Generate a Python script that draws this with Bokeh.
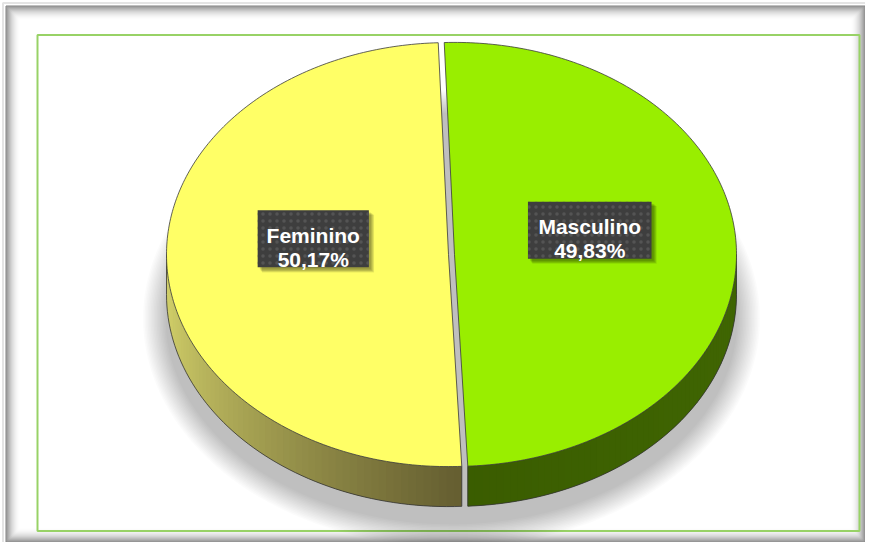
import numpy as np
from bokeh.plotting import figure
from bokeh.models import Range1d
from bokeh.core.properties import value
from bokeh.embed import file_html
from bokeh.resources import INLINE

# ---- data ----
categories = ["Feminino", "Masculino"]
percent = [50.17, 49.83]
top_colors = ["#FFFF66", "#99EE00"]

# ---- geometry / style ----
W, H = 865, 542
CX, CY = 451.0, 254.0      # centre of top face (pixels)
RX, RY = 282.0, 212.0
DEPTH = 40.0
EXPLODE = 3.0
START = 177.3              # compass angle (deg, clockwise from top) of first slice

p = figure(width=W, height=H, x_range=Range1d(0, W), y_range=Range1d(H, 0),
           output_backend="svg", toolbar_location=None, min_border=0,
           x_axis_type=None, y_axis_type=None)
p.grid.visible = False
p.outline_line_color = None
p.background_fill_color = "white"
p.border_fill_color = "white"

# ---- outer frame with inner shadow ----
L, R, T, B = 5, W, 5, H
p.quad(left=L - 2.5, right=R + 2, top=T - 2.5, bottom=B + 2, fill_alpha=0,
       line_color="#e4e4e4", line_width=2)
for i in range(16):
    a = 0.5 * (1 - i / 16.0) ** 2.4
    p.quad(left=L + i + 0.5, right=R - i - 0.5, top=T + i + 0.5, bottom=B - i - 0.5,
           fill_alpha=0, line_color="#000000", line_alpha=a, line_width=1)

# inner green rectangle
p.quad(left=37, right=859, top=34.5, bottom=530.5, fill_alpha=0,
       line_color="#98d266", line_width=2)

# ---- pie shadow ----
t = np.linspace(0, 2 * np.pi, 200)
for k in range(16):
    rx = 286 + 1.5 * k
    ry = 206 + 1.5 * k
    p.patch(451 + rx * np.cos(t), 318 + ry * np.sin(t), fill_color="#000000",
            fill_alpha=0.016, line_alpha=0)


def pt(theta_deg, ox, oy, dy=0.0):
    th = np.radians(theta_deg)
    return CX + ox + RX * np.sin(th), CY + oy - RY * np.cos(th) + dy


def lerp(c1, c2, f):
    c1 = [int(c1[i:i + 2], 16) for i in (1, 3, 5)]
    c2 = [int(c2[i:i + 2], 16) for i in (1, 3, 5)]
    return "#%02x%02x%02x" % tuple(int(round(a + (b - a) * f)) for a, b in zip(c1, c2))


side_grad = {
    "Feminino": ("#cfcd68", "#665f31"),
    "Masculino": ("#3a5c00", "#3f6502"),
}

total = sum(percent)
angles = []
a0 = START
for v in percent:
    a1 = a0 + 360.0 * v / total
    angles.append((a0, a1))
    a0 = a1

slices = []
for name, v, col, (a0, a1) in zip(categories, percent, top_colors, angles):
    bis = np.radians((a0 + a1) / 2)
    ox = EXPLODE * np.sin(bis)
    oy = -EXPLODE * np.cos(bis) * RY / RX
    slices.append((name, v, col, a0, a1, ox, oy, bis))

# ---- side walls ----
for name, v, col, a0, a1, ox, oy, bis in slices:
    segs = []
    for shift in (-360, 0, 360):
        lo = max(a0, 90 + shift)
        hi = min(a1, 270 + shift)
        if hi > lo:
            segs.append((lo, hi))
    c_light, c_dark = side_grad[name]
    for lo, hi in segs:
        n = 60
        th = np.linspace(lo, hi, n + 1)
        # base fill of whole wall
        tx, ty = zip(*[pt(a, ox, oy) for a in th])
        bx, by = zip(*[pt(a, ox, oy, DEPTH) for a in th])
        xs, ys, cs = [], [], []
        for i in range(n):
            j = min(i + 2, n)
            x0, y0 = pt(th[i], ox, oy)
            x1, y1 = pt(th[j], ox, oy)
            xs.append([x0, x1, x1, x0])
            ys.append([y0, y1, y1 + DEPTH, y0 + DEPTH])
            xm = (x0 + x1) / 2
            if name == "Feminino":
                f = np.clip((xm - (CX - RX)) / RX, 0, 1) ** 0.7
            else:
                f = np.clip((xm - CX) / RX, 0, 1)
            cs.append(lerp(c_light, c_dark, f))
        p.patches(xs, ys, fill_color=cs, line_alpha=0)
        p.line(list(bx), list(by), line_color="#333333", line_width=0.8)
        for a in (lo, hi):
            xa, ya = pt(a, ox, oy)
            p.line([xa, xa], [ya, ya + DEPTH], line_color="#333333", line_width=0.8)

# ---- top faces ----
for name, v, col, a0, a1, ox, oy, bis in slices:
    th = np.linspace(a0, a1, 200)
    px, py = zip(*[pt(a, ox, oy) for a in th])
    xs = [CX + ox] + list(px)
    ys = [CY + oy] + list(py)
    p.patch(xs, ys, fill_color=col, line_color="#3a3a3a", line_width=0.8)

# ---- labels ----
for name, v, col, a0, a1, ox, oy, bis in slices:
    lx = CX + ox + 0.48 * RX * np.sin(bis)
    ly = CY + oy - 0.48 * RY * np.cos(bis) - 20
    line2 = ("%.2f" % v).replace(".", ",") + "%"
    bw = 12.4 * max(len(name), len(line2)) + 12
    bh = 57
    for k in range(5):
        p.quad(left=lx - bw / 2 + 2 + k * 0.6, right=lx + bw / 2 + 2 + k * 0.8,
               top=ly - bh / 2 + 2 + k * 0.6, bottom=ly + bh / 2 + 2 + k * 0.8,
               fill_color="#000000", fill_alpha=0.09, line_alpha=0)
    p.quad(left=lx - bw / 2, right=lx + bw / 2, top=ly - bh / 2, bottom=ly + bh / 2,
           fill_color="#3e3e3e", line_alpha=0,
           hatch_pattern=".", hatch_color="#545454", hatch_scale=7, hatch_weight=1.5)
    for txt, dy in ((name, -3.5), (line2, 20.5)):
        p.text(x=[lx], y=[ly + dy], text=[txt], text_font=value("Liberation Sans"),
               text_font_style="bold", text_font_size="21px", text_color="white",
               text_align="center", text_baseline="alphabetic")

open("out.html", "w").write(file_html(p, INLINE))
